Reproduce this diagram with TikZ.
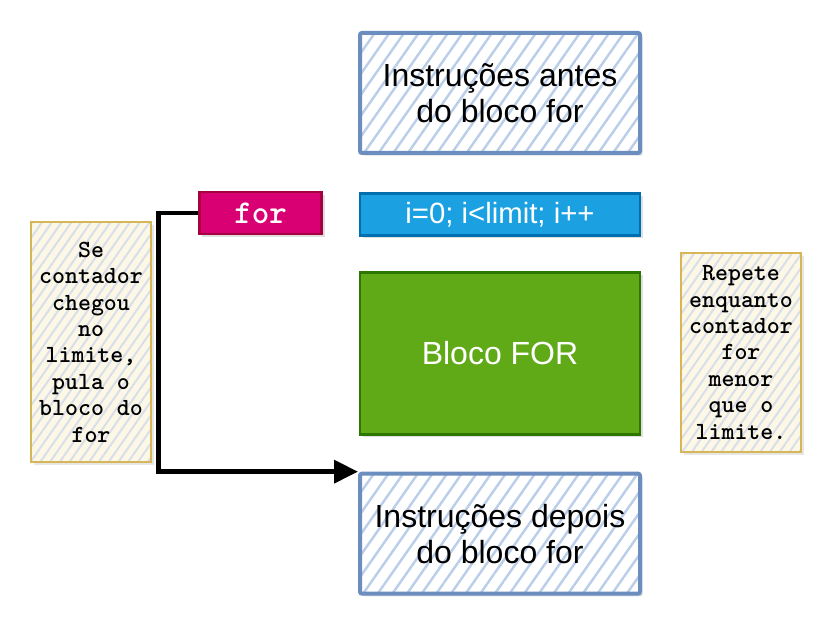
\documentclass[tikz,border=0pt]{standalone}
\usepackage{fontspec}
\setmainfont{Liberation Sans}
\usepackage{tikz}
\usetikzlibrary{arrows.meta,calc,positioning,shadows,patterns.meta}
\definecolor{stepblue}{HTML}{6C8EBF}
\definecolor{hatchblue}{HTML}{BACDE9}
\definecolor{forfill}{HTML}{D80073}
\definecolor{fordraw}{HTML}{A50040}
\definecolor{headfill}{HTML}{1BA1E2}
\definecolor{headdraw}{HTML}{006EAF}
\definecolor{bodyfill}{HTML}{60A917}
\definecolor{bodydraw}{HTML}{2D7600}
\definecolor{notedraw}{HTML}{D6B656}
\definecolor{notefill}{HTML}{FDF7E6}
\definecolor{notehatch}{HTML}{D8DFEB}
\tikzstyle{stepbox}=[
  drop shadow={opacity=0.25,shadow xshift=2pt,shadow yshift=-2pt},
  preaction={fill=white},
  draw=stepblue,
  line width=3pt,
  rounded corners=1.5pt,
  pattern={Lines[angle=55,distance=9pt,line width=1.8pt]},
  pattern color=hatchblue,
  font={\fontsize{24}{27}\selectfont},
  align=center,
  inner sep=0pt,
  minimum width=210pt,
  minimum height=90pt,
]
\tikzstyle{solidbox}=[
  line width=2.2pt,
  text=white,
  inner sep=0pt,
  minimum height=31.5pt,
  drop shadow={opacity=0.25,shadow xshift=2pt,shadow yshift=-2pt},
]
\tikzstyle{note}=[
  drop shadow={opacity=0.2,shadow xshift=2pt,shadow yshift=-2pt},
  preaction={fill=notefill},
  draw=notedraw,
  line width=1.2pt,
  pattern={Lines[angle=55,distance=6pt,line width=1.5pt]},
  pattern color=notehatch,
  font={\ttfamily\bfseries\fontsize{18.5}{19.8}\selectfont},
  align=center,
  inner sep=0pt,
  minimum width=90pt,
]
\tikzstyle{jump}=[
  draw=black,
  line width=3.4pt,
  -{Triangle[length=18pt,width=17pt]},
]
\tikzset{
  node distance=27pt,
}
\begin{document}
\begin{tikzpicture}[x=0.75pt,y=-0.75pt]
  \useasboundingbox (0,0) rectangle (838,631);
  \node (before) [stepbox] at (500,93) {Instruções antes\\do bloco for};
  \node (header) [solidbox, fill=headfill, draw=headdraw, minimum width=210pt,
    font={\fontsize{22}{26}\selectfont}, below=28.5pt of before] {i=0; i<limit; i++};
  \node (forkw) [solidbox, fill=forfill, draw=fordraw, minimum width=92pt,
    font={\ttfamily\bfseries\fontsize{25}{26}\selectfont}] at (260.5,213) {for};
  \node (body) [solidbox, fill=bodyfill, draw=bodydraw, minimum width=210pt,
    minimum height=121.5pt, font={\fontsize{24}{27}\selectfont},
    below=25.2pt of header] {Bloco FOR};
  \node (after) [stepbox, below=of body] {Instruções depois\\do bloco for};
  \node (skipnote) [note, minimum height=180pt] at (91,342)
    {Se\\contador\\chegou\\no\\limite,\\pula o\\bloco do\\for};
  \node (loopnote) [note, minimum height=149pt] at (741,352.5)
    {Repete\\enquanto\\contador\\for\\menor\\que o\\limite.};
  \draw [jump] (forkw.west) -- ++(-39,0) |- (after.north west);
\end{tikzpicture}
\end{document}
